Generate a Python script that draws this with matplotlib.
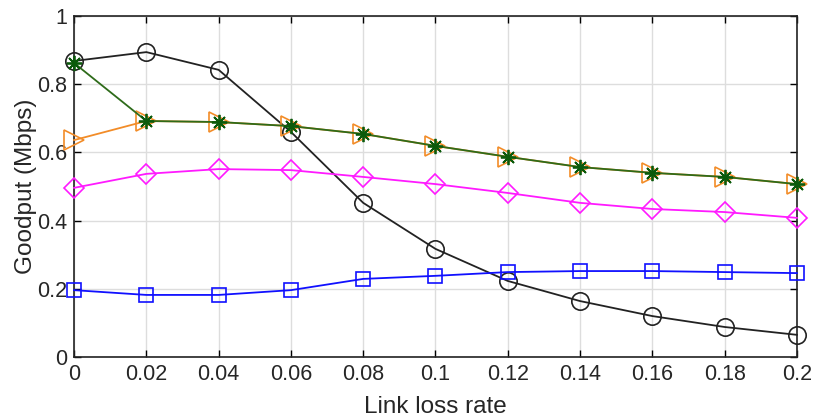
import matplotlib
matplotlib.use("Agg")
import matplotlib.pyplot as plt

plt.rcParams['font.family'] = ['Liberation Sans', 'DejaVu Sans']

loss_rate = [0, 0.02, 0.04, 0.06, 0.08, 0.1, 0.12, 0.14, 0.16, 0.18, 0.2]
x_labels = ['0', '0.02', '0.04', '0.06', '0.08', '0.1', '0.12', '0.14', '0.16', '0.18', '0.2']
y_ticks = [0, 0.2, 0.4, 0.6, 0.8, 1.0]
y_labels = ['0', '0.2', '0.4', '0.6', '0.8', '1']

black_circle = [0.868, 0.894, 0.842, 0.660, 0.452, 0.317, 0.223, 0.164, 0.120, 0.088, 0.065]
orange_tri = [0.636, 0.692, 0.689, 0.677, 0.654, 0.619, 0.587, 0.557, 0.540, 0.528, 0.507]
green_star = [0.862, 0.692, 0.689, 0.677, 0.654, 0.619, 0.587, 0.557, 0.540, 0.528, 0.507]
magenta_dia = [0.496, 0.537, 0.551, 0.548, 0.528, 0.507, 0.481, 0.452, 0.434, 0.425, 0.408]
blue_sq = [0.196, 0.182, 0.182, 0.196, 0.229, 0.238, 0.249, 0.252, 0.252, 0.249, 0.246]

fig = plt.figure(figsize=(8.14, 4.2), dpi=100)
ax = fig.add_axes([0.091, 0.15, 0.888, 0.812])

common = dict(lw=1.3, mfc='none', mew=1.2, clip_on=False)
ax.plot(loss_rate, black_circle, color='#222222', marker='o', ms=12.5,
        mec='#222222', zorder=3, **common)
ax.plot(loss_rate, blue_sq, color='#1010FF', marker='s', ms=10,
        mec='#1010FF', zorder=3, **common)
ax.plot(loss_rate, magenta_dia, color='#FF1AFF', marker='D', ms=10,
        mec='#FF1AFF', zorder=3, **common)
ax.plot(loss_rate, orange_tri, color='#F28C28', marker='>', ms=14,
        mec='#F28C28', zorder=4, **common)
ax.plot(loss_rate, green_star, color='#2E6B1A', lw=1.3, marker=(8, 2, 0), ms=11,
        mec='#0B5A0B', mew=1.3, zorder=5, clip_on=False)

ax.set_xlim(0, 0.2)
ax.set_ylim(0, 1)
ax.set_xticks(loss_rate)
ax.set_xticklabels(x_labels)
ax.set_yticks(y_ticks)
ax.set_yticklabels(y_labels)
ax.grid(True, color='#DDDDDD', lw=1.0)
ax.set_axisbelow(True)
ax.tick_params(direction='in', top=True, right=True, length=5, width=1,
               labelsize=15.5, pad=5, labelcolor='#262626')
for s in ax.spines.values():
    s.set_linewidth(1.2)
    s.set_color('#222222')
ax.set_xlabel('Link loss rate', fontsize=17.5, labelpad=8, color='#262626')
ax.set_ylabel('Goodput (Mbps)', fontsize=17.5, labelpad=0, color='#262626')

fig.savefig('out.png', dpi=100)
